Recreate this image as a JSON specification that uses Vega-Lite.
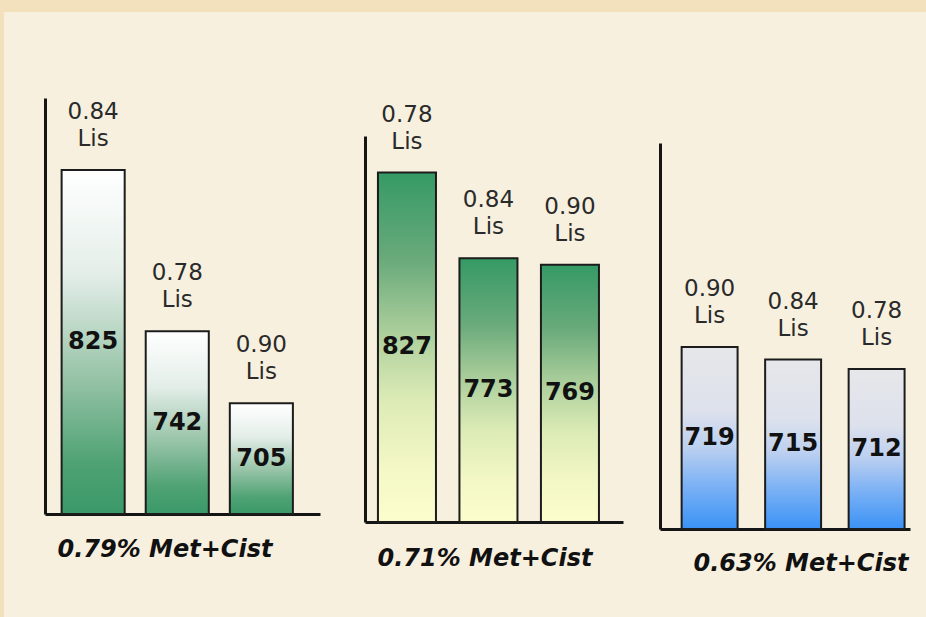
{
  "$schema": "https://vega.github.io/schema/vega-lite/v6.json",
  "background": "#f7f0df",
  "padding": 0,
  "bounds": "flush",
  "spacing": 0,
  "datasets": {
    "p1": [
      {"lis": "0.84", "label": "0.84 Lis", "value": 825},
      {"lis": "0.78", "label": "0.78 Lis", "value": 742},
      {"lis": "0.90", "label": "0.90 Lis", "value": 705}
    ],
    "p2": [
      {"lis": "0.78", "label": "0.78 Lis", "value": 827},
      {"lis": "0.84", "label": "0.84 Lis", "value": 773},
      {"lis": "0.90", "label": "0.90 Lis", "value": 769}
    ],
    "p3": [
      {"lis": "0.90", "label": "0.90 Lis", "value": 719},
      {"lis": "0.84", "label": "0.84 Lis", "value": 715},
      {"lis": "0.78", "label": "0.78 Lis", "value": 712}
    ]
  },
  "config": {
    "view": {"stroke": null},
    "axis": {"domain": true, "domainColor": "#151515", "domainWidth": 3, "ticks": false, "labels": false, "grid": false, "zindex": 1,
      "titleFont": "DejaVu Sans", "titleFontSize": 24, "titleFontStyle": "italic", "titleFontWeight": "bold", "titleColor": "#111111"},
    "text": {"font": "DejaVu Sans"}
  },
  "vconcat": [
    {"width": 926, "height": 12, "data": {"values": []}, "mark": "point", "view": {"fill": "#f3e1bd", "stroke": null}},
    {
      "hconcat": [
        {"width": 4, "height": 605, "data": {"values": []}, "mark": "point", "view": {"fill": "#f3e1bd", "stroke": null}},
        {
          "hconcat": [
            {
              "width": 275, "height": 502,
              "data": {"name": "p1"},
              "resolve": {"scale": {"y": "independent"}, "axis": {"y": "independent"}},
              "encoding": {"x": {"field": "lis", "type": "nominal", "sort": null,
                "scale": {"paddingInner": 0.25, "paddingOuter": 0.26, "align": 0.38},
                "axis": {"title": "0.79% Met+Cist", "titleX": 12, "titleY": 35, "titleAlign": "left", "titleBaseline": "middle"}}},
              "layer": [
                {"mark": {"type": "bar", "stroke": "#1c1c1c", "strokeWidth": 2,
                  "fill": {"gradient": "linear", "x1": 0, "y1": 0, "x2": 0, "y2": 1, "stops": [
                    {"offset": 0, "color": "#ffffff"}, {"offset": 0.3, "color": "#e4eee9"}, {"offset": 0.6, "color": "#98c4a8"}, {"offset": 0.85, "color": "#4fa274"}, {"offset": 1, "color": "#3a9968"}]}},
                  "encoding": {"y": {"field": "value", "type": "quantitative", "scale": {"domain": [648, 862], "range": [502, 86], "zero": false, "nice": false}, "axis": {"title": null}},
                    "y2": {"datum": 648}}},
                {"mark": {"type": "text", "baseline": "bottom", "dy": -46, "lineBreak": " ", "fontSize": 23, "lineHeight": 27, "color": "#2a2a2a"},
                  "encoding": {"y": {"field": "value", "type": "quantitative", "scale": {"domain": [648, 862], "range": [502, 86], "zero": false, "nice": false}, "axis": null}, "text": {"field": "label"}}},
                {"mark": {"type": "text", "baseline": "middle", "fontSize": 24, "fontWeight": "bold", "color": "#111111"},
                  "encoding": {"y": {"field": "value", "type": "quantitative", "scale": {"domain": [648, 1076], "range": [502, 86], "zero": false, "nice": false}, "axis": null}, "text": {"field": "value"}}}
              ]
            },
            {
              "hconcat": [
                {
                  "width": 258, "height": 510,
                  "data": {"name": "p2"},
                  "resolve": {"scale": {"y": "independent"}, "axis": {"y": "independent"}},
                  "encoding": {"x": {"field": "lis", "type": "nominal", "sort": null,
                    "scale": {"paddingInner": 0.288, "paddingOuter": 0.227, "align": 0.35},
                    "axis": {"title": "0.71% Met+Cist", "titleX": 12, "titleY": 36, "titleAlign": "left", "titleBaseline": "middle"}}},
                  "layer": [
                    {"mark": {"type": "bar", "stroke": "#1c1c1c", "strokeWidth": 2,
                      "fill": {"gradient": "linear", "x1": 0, "y1": 0, "x2": 0, "y2": 1, "stops": [
                        {"offset": 0, "color": "#359a65"}, {"offset": 0.25, "color": "#6aaa7b"}, {"offset": 0.45, "color": "#a9cd9a"}, {"offset": 0.65, "color": "#dcebb6"}, {"offset": 0.85, "color": "#f4f8c6"}, {"offset": 1, "color": "#fcfdcc"}]}},
                      "encoding": {"y": {"field": "value", "type": "quantitative", "scale": {"domain": [607, 850], "range": [510, 124], "zero": false, "nice": false}, "axis": {"title": null}},
                        "y2": {"datum": 607}}},
                    {"mark": {"type": "text", "baseline": "bottom", "dy": -46, "lineBreak": " ", "fontSize": 23, "lineHeight": 27, "color": "#2a2a2a"},
                      "encoding": {"y": {"field": "value", "type": "quantitative", "scale": {"domain": [607, 850], "range": [510, 124], "zero": false, "nice": false}, "axis": null}, "text": {"field": "label"}}},
                    {"mark": {"type": "text", "baseline": "middle", "fontSize": 24, "fontWeight": "bold", "color": "#111111"},
                      "encoding": {"y": {"field": "value", "type": "quantitative", "scale": {"domain": [607, 1093], "range": [510, 124], "zero": false, "nice": false}, "axis": null}, "text": {"field": "value"}}}
                  ]
                },
                {
                  "width": 250, "height": 517,
                  "data": {"name": "p3"},
                  "resolve": {"scale": {"y": "independent"}, "axis": {"y": "independent"}},
                  "encoding": {"x": {"field": "lis", "type": "nominal", "sort": null,
                    "scale": {"paddingInner": 0.33, "paddingOuter": 0.162, "align": 0.8},
                    "axis": {"title": "0.63% Met+Cist", "titleX": 33, "titleY": 34, "titleAlign": "left", "titleBaseline": "middle"}}},
                  "layer": [
                    {"mark": {"type": "bar", "stroke": "#1c1c1c", "strokeWidth": 2,
                      "fill": {"gradient": "linear", "x1": 0, "y1": 0, "x2": 0, "y2": 1, "stops": [
                        {"offset": 0, "color": "#e6e7ea"}, {"offset": 0.35, "color": "#dde1ec"}, {"offset": 0.55, "color": "#bcd0f0"}, {"offset": 0.75, "color": "#7fb3f5"}, {"offset": 1, "color": "#3a92f6"}]}},
                      "encoding": {"y": {"field": "value", "type": "quantitative", "scale": {"domain": [661, 784], "range": [517, 131], "zero": false, "nice": false}, "axis": {"title": null}},
                        "y2": {"datum": 661}}},
                    {"mark": {"type": "text", "baseline": "bottom", "dy": -46, "lineBreak": " ", "fontSize": 23, "lineHeight": 27, "color": "#2a2a2a"},
                      "encoding": {"y": {"field": "value", "type": "quantitative", "scale": {"domain": [661, 784], "range": [517, 131], "zero": false, "nice": false}, "axis": null}, "text": {"field": "label"}}},
                    {"mark": {"type": "text", "baseline": "middle", "fontSize": 24, "fontWeight": "bold", "color": "#111111"},
                      "encoding": {"y": {"field": "value", "type": "quantitative", "scale": {"domain": [661, 907], "range": [517, 131], "zero": false, "nice": false}, "axis": null}, "text": {"field": "value"}}}
                  ]
                }
              ],
              "spacing": 37,
              "bounds": "flush"
            }
          ],
          "spacing": 45,
          "bounds": "flush"
        }
      ],
      "spacing": 41,
      "bounds": "flush"
    }
  ]
}
